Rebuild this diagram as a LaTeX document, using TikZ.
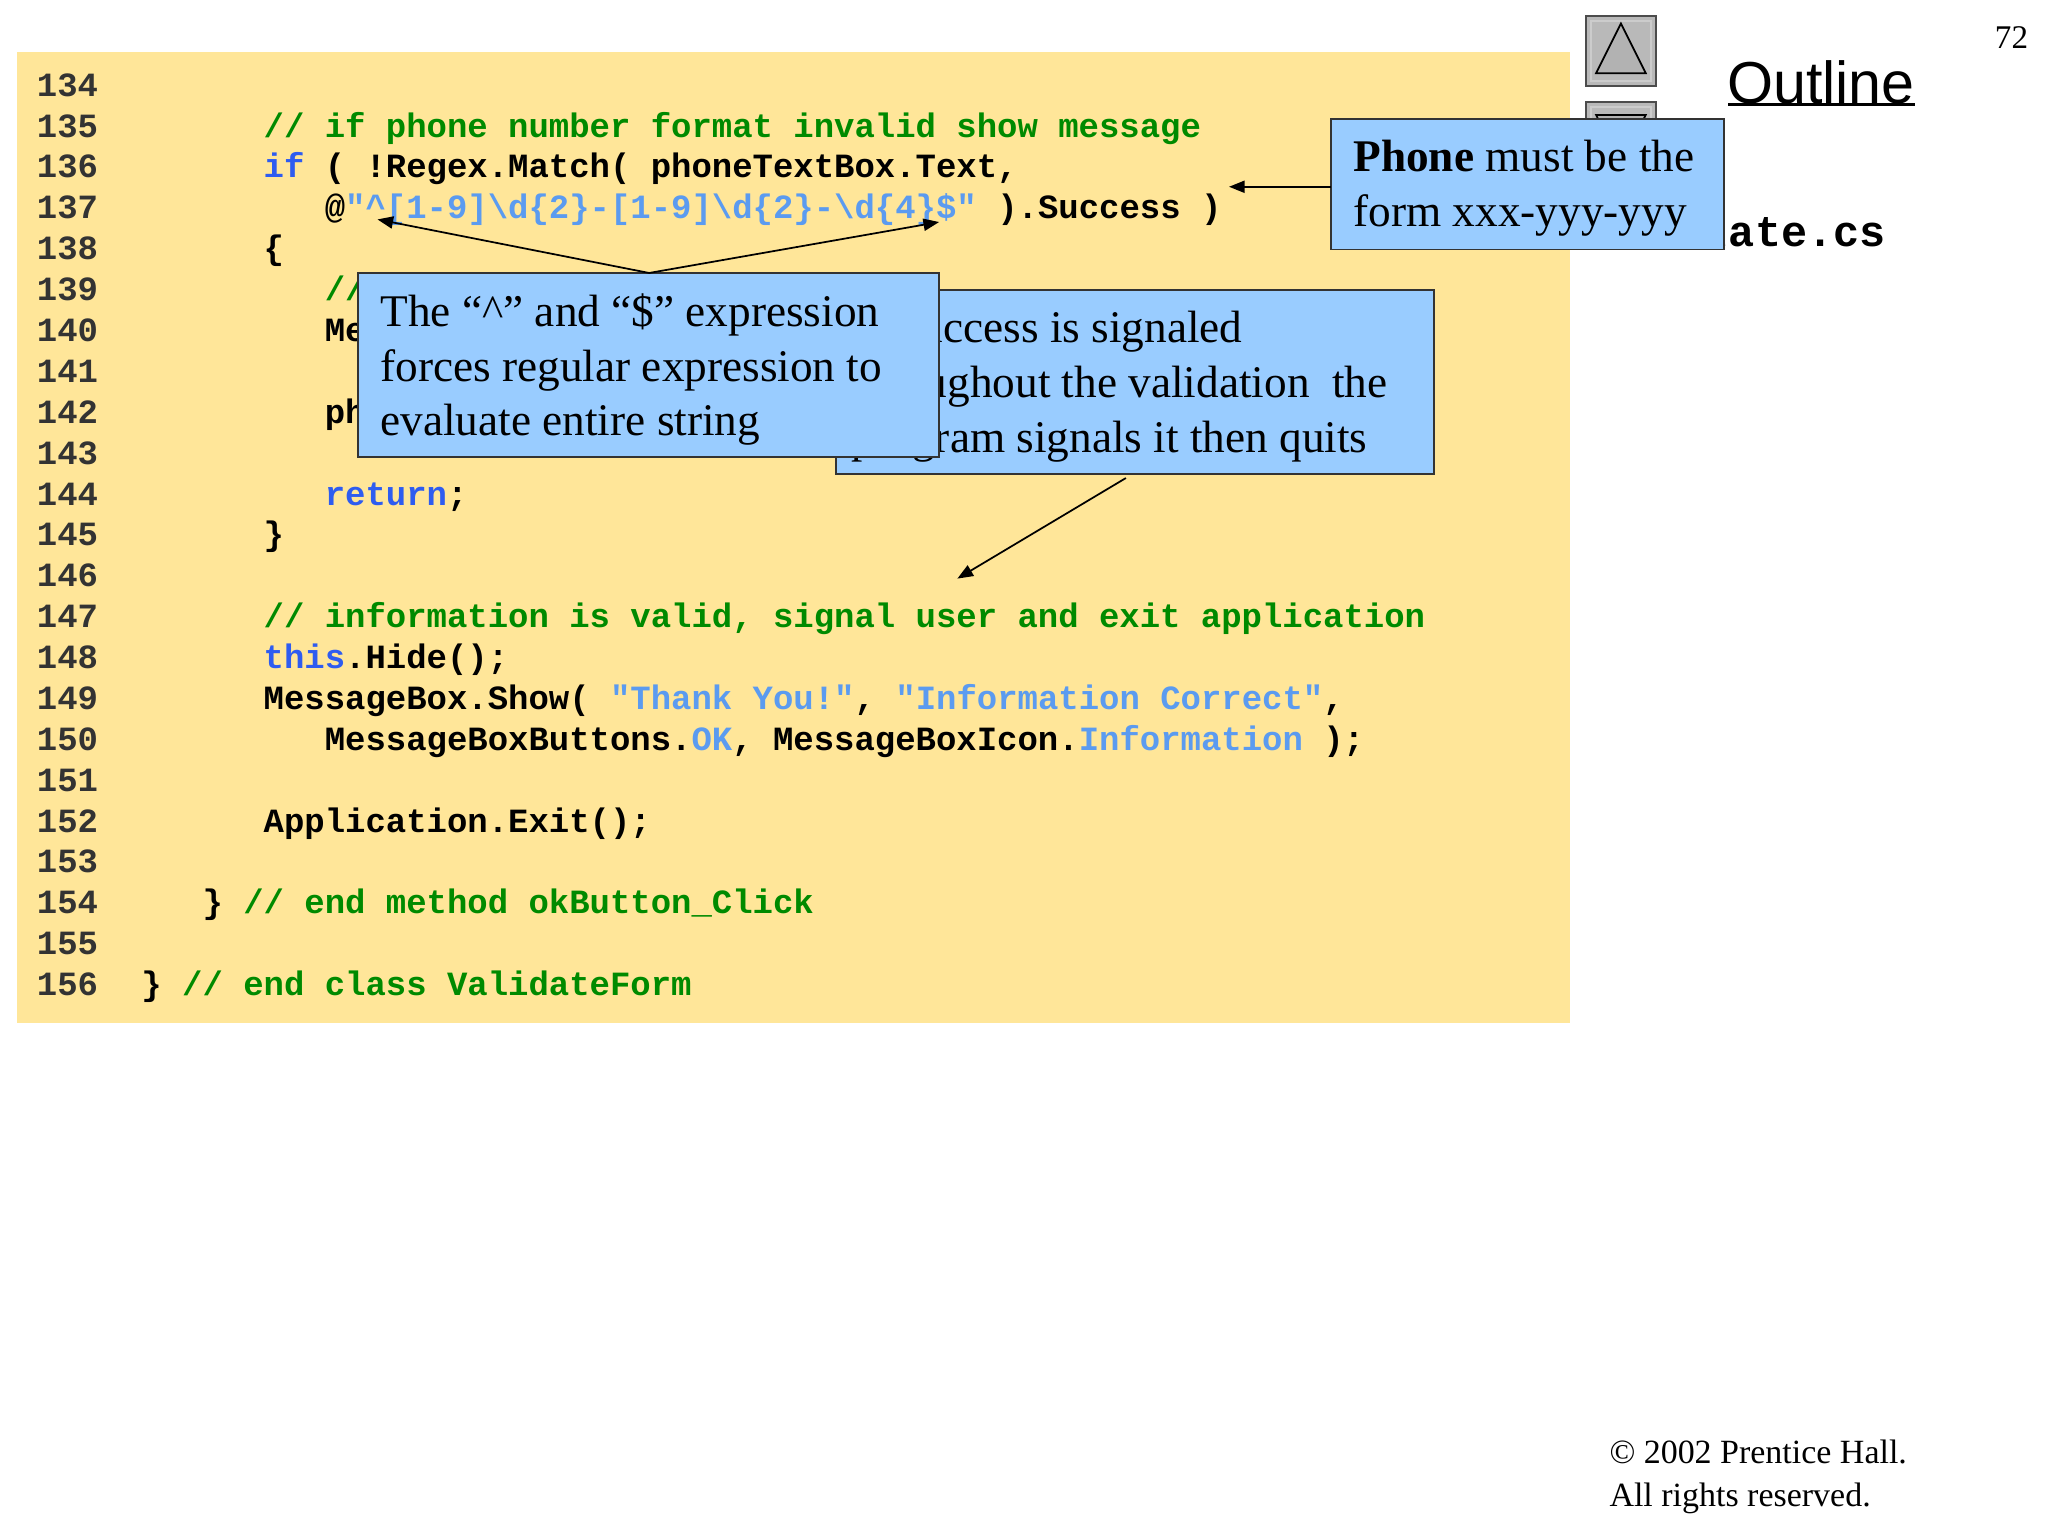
\documentclass[tikz,border=0pt]{standalone}
\usepackage{fontspec}
\setmainfont{Liberation Serif}
\setmonofont{Liberation Mono}
\newfontfamily\arialf{Liberation Sans}
\usetikzlibrary{arrows.meta}
\definecolor{bgy}{HTML}{FFE699}
\definecolor{cmt}{HTML}{008A00}
\definecolor{kw}{HTML}{2E5CF0}
\definecolor{str}{HTML}{5B9BF0}
\definecolor{callbg}{HTML}{99CCFF}
\definecolor{lnum}{HTML}{333333}
\newcommand{\Cm}[1]{\textcolor{cmt}{#1}}
\newcommand{\Kw}[1]{\textcolor{kw}{#1}}
\newcommand{\St}[1]{\textcolor{str}{#1}}
\tikzset{
  codeln/.style={anchor=west,inner sep=0pt,font=\ttfamily\bfseries\fontsize{19.5}{22}\selectfont,text height=14pt,text depth=4pt},
  numln/.style={codeln,text=lnum},
  callout/.style={draw=black!80,line width=1pt,fill=callbg},
  calltext/.style={anchor=west,inner sep=0pt,font=\fontsize{26}{31.5}\selectfont,align=left},
  arr/.style={-{Triangle[length=9pt,width=7pt]},line width=1pt}
}
\begin{document}
\begin{tikzpicture}[x=0.75pt,y=-0.75pt]
\useasboundingbox (0,0) rectangle (1568,1176);
\fill[bgy] (13,40) rectangle (1202,783);
% line numbers
\foreach \n [count=\i from 0] in {134,...,156}
  \node[numln] (n\n) at (28,{67+31.3*\i}) {\n};
\def\cx#1{108+15.6*#1}
\node[codeln] (c135) at ({\cx{6}},98.3) {\Cm{// if phone number format invalid show message}};
\node[codeln] (c136) at ({\cx{6}},129.6) {\Kw{if} ( !Regex.Match( phoneTextBox.Text,};
\node[codeln] (c137) at ({\cx{9}},160.9) {@\St{"\textasciicircum[1-9]\textbackslash d\{2\}-[1-9]\textbackslash d\{2\}-\textbackslash d\{4\}\$"} ).Success )};
\node[codeln] (c138) at ({\cx{6}},192.2) {\{};
\node[codeln] (c139) at ({\cx{9}},223.5) {\Cm{// if phone number invalid}};
\node[codeln] (c140) at ({\cx{9}},254.8) {MessageBox.Show( \St{"Invalid Phone Number"},};
\node[codeln] (c141) at ({\cx{12}},286.1) {\St{"Message"}, MessageBoxButtons.OK );};
\node[codeln] (c142) at ({\cx{9}},317.4) {phoneTextBox.Focus();};
\node[codeln] (c144) at ({\cx{9}},380) {\Kw{return};};
\node[codeln] (c145) at ({\cx{6}},411.3) {\}};
\node[codeln] (c147) at ({\cx{6}},473.9) {\Cm{// information is valid, signal user and exit application}};
\node[codeln] (c148) at ({\cx{6}},505.2) {\Kw{this}.Hide();};
\node[codeln] (c149) at ({\cx{6}},536.5) {MessageBox.Show( \St{"Thank You!"}, \St{"Information Correct"},};
\node[codeln] (c150) at ({\cx{9}},567.8) {MessageBoxButtons.\St{OK}, MessageBoxIcon.\St{Information} );};
\node[codeln] (c152) at ({\cx{6}},630.4) {Application.Exit();};
\node[codeln] (c154) at ({\cx{3}},693) {\} \Cm{// end method okButton\_Click}};
\node[codeln] (c156) at ({\cx{0}},755.6) {\} \Cm{// end class ValidateForm}};
% right side header
\node[anchor=east,inner sep=0pt,font=\ttfamily\bfseries\fontsize{25}{28}\selectfont] (fname) at (1444,177) {Validate.cs};
\foreach \yy/\nm in {12/up,78/dn}{
  \fill[gray!55] (1214,\yy) rectangle (1268,\yy+54);
  \draw[black!70,line width=1pt] (1214,\yy) rectangle (1268,\yy+54);
  \draw[white!80!black,line width=1.5pt] (1218,\yy+4) rectangle (1264,\yy+50);
}
\fill[gray!60,draw=black,line width=1pt] (1241,18) -- (1260,56) -- (1222,56) -- cycle;
\fill[gray!60,draw=black,line width=1pt] (1241,126) -- (1260,88) -- (1222,88) -- cycle;
\node[anchor=west,inner sep=0pt,font=\arialf\fontsize{34}{36}\selectfont] (outl) at (1322,63) {Outline};
\draw[line width=1.2pt] (1323,80) -- (outl.east |- 0,80);
\node[anchor=east,inner sep=0pt,font=\fontsize{19}{22}\selectfont] (pg) at (1553,29) {72};
\node[anchor=north west,inner sep=0pt,align=left,font=\fontsize{19.5}{25}\selectfont] (copy) at (1232,1102) {\copyright\ 2002 Prentice Hall.\\All rights reserved.};
% callout A
\draw[callout] (1019,91) rectangle (1320,191);
\node[calltext] (tA) at (1036,144) {\textbf{Phone} must be the\\form xxx-yyy-yyy};
\coordinate (aA) at (1019,143);
\coordinate (eA) at (941,143);
\draw[arr] (aA) -- (eA);
% callout B
\draw[callout] (640,222) rectangle (1098,363);
\node[calltext] (tB) at (652,296) {\hspace*{25pt}Success is signaled\\throughout the validation\ \ the\\program signals it then quits};
\coordinate (aB) at (862,366);
\coordinate (eB) at (733,443);
\draw[arr] (aB) -- (eB);
% callout C
\draw[callout] (274,209) rectangle (719,350);
\node[calltext] (tC) at (291,283) {The “\textasciicircum” and “\$” expression\\forces regular expression to\\evaluate entire string};
\coordinate (aC) at (497,209);
\coordinate (eC1) at (289,168);
\coordinate (eC2) at (719,170);
\draw[arr] (aC) -- (eC1);
\draw[arr] (aC) -- (eC2);
\end{tikzpicture}
\end{document}
